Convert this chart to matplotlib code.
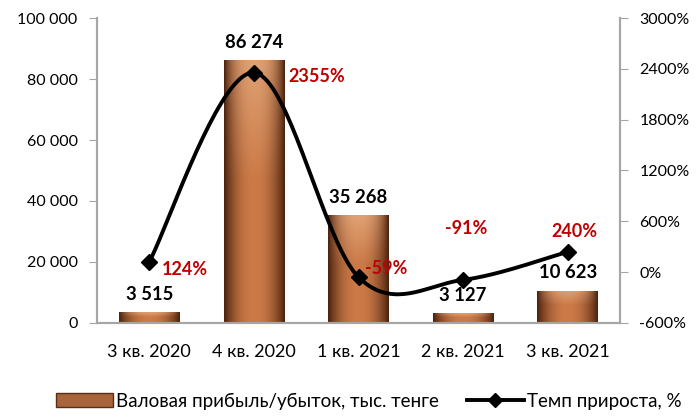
import numpy as np
import matplotlib
matplotlib.use("Agg")
import matplotlib.pyplot as plt
from matplotlib.patches import Rectangle, Patch
from matplotlib.lines import Line2D

plt.rcParams['font.family'] = ['Lato', 'DejaVu Sans']

categories = ["3 кв. 2020", "4 кв. 2020", "1 кв. 2021", "2 кв. 2021", "3 кв. 2021"]
profit = [3515, 86274, 35268, 3127, 10623]
profit_labels = ["3 515", "86 274", "35 268", "3 127", "10 623"]
growth = [124, 2355, -59, -91, 240]
growth_labels = ["124%", "2355%", "-59%", "-91%", "240%"]
left_ticks = [0, 20000, 40000, 60000, 80000, 100000]
left_tick_labels = ["0", "20 000", "40 000", "60 000", "80 000", "100 000"]
right_ticks = [-600, 0, 600, 1200, 1800, 2400, 3000]
right_tick_labels = ["-600%", "0%", "600%", "1200%", "1800%", "2400%", "3000%"]

fig = plt.figure(figsize=(6.99, 4.16), dpi=100)
ax = fig.add_axes([0.1388, 0.2236, 0.887 - 0.1388, 0.9567 - 0.2236])
ax2 = ax.twinx()

x = np.arange(len(categories))
bw = 0.58
grey = "#a6a6a6"

# gradient bars
def bar_image(nx=60, ny=200):
    t = np.linspace(0, 1, nx)
    s = np.linspace(0, 1, ny)[:, None]  # 0 bottom .. 1 top
    prof = 1 - np.abs(2 * t - 1) ** 2.2
    edge = np.array([0.30, 0.14, 0.06])
    mid = np.array([0.80, 0.48, 0.28])
    top = np.array([0.94, 0.76, 0.60])
    img = edge[None, None, :] + (mid - edge)[None, None, :] * prof[None, :, None]
    img = np.repeat(img, ny, axis=0)
    w = np.clip((s - 0.55) / 0.45, 0, 1)[:, :, None] * 0.55 * prof[None, :, None]
    img = img * (1 - w) + top[None, None, :] * w
    return np.clip(img, 0, 1)

img = bar_image()
for xi, v in zip(x, profit):
    rect = Rectangle((xi - bw / 2, 0), bw, v, facecolor="none", edgecolor="none")
    ax.add_patch(rect)
    im = ax.imshow(img, extent=[xi - bw / 2, xi + bw / 2, 0, v], origin="lower",
                   aspect="auto", zorder=2, interpolation="bilinear")
    im.set_clip_path(rect)

for xi, v, lab in zip(x, profit, profit_labels):
    ax.text(xi, v + 3000, lab, ha="center", va="bottom", fontsize=13.3,
            fontweight="bold", color="black", zorder=5)

ax.set_xlim(-0.5, len(categories) - 0.5)
ax.set_ylim(0, 100000)
ax.set_yticks(left_ticks)
ax.set_yticklabels(left_tick_labels, fontsize=11.5)
ax.set_xticks(x)
ax.set_xticklabels(categories, fontsize=13)
ax.tick_params(axis="x", length=0, pad=15)
ax.tick_params(axis="y", length=6, color=grey, direction="out", pad=8)

for a in (ax, ax2):
    a.spines["top"].set_visible(False)
    for sp in ("left", "right", "bottom"):
        a.spines[sp].set_color(grey)
        a.spines[sp].set_linewidth(1.5)

# smooth line (Catmull-Rom through the points)
def smooth(xs, ys, n=40):
    xs = np.asarray(xs, float); ys = np.asarray(ys, float)
    px = np.concatenate([[xs[0]], xs, [xs[-1]]])
    py = np.concatenate([[ys[0]], ys, [ys[-1]]])
    ox, oy = [], []
    for i in range(1, len(px) - 2):
        t = np.linspace(0, 1, n)
        h00 = 2*t**3 - 3*t**2 + 1; h10 = t**3 - 2*t**2 + t
        h01 = -2*t**3 + 3*t**2; h11 = t**3 - t**2
        mx0 = (px[i+1] - px[i-1]) / 2; mx1 = (px[i+2] - px[i]) / 2
        my0 = (py[i+1] - py[i-1]) / 2; my1 = (py[i+2] - py[i]) / 2
        ox.append(h00*px[i] + h10*mx0 + h01*px[i+1] + h11*mx1)
        oy.append(h00*py[i] + h10*my0 + h01*py[i+1] + h11*my1)
    return np.concatenate(ox), np.concatenate(oy)

sx, sy = smooth(x, growth)
ax2.plot(sx, sy, color="black", lw=2.8, zorder=3, solid_capstyle="round",
         solid_joinstyle="round")
ax2.plot(x, growth, linestyle="none", marker="D", markersize=8,
         color="black", zorder=4)
ax2.set_ylim(-600, 3000)
ax2.set_yticks(right_ticks)
ax2.set_yticklabels(right_tick_labels, fontsize=11.5)
ax2.tick_params(axis="y", length=6, color=grey, direction="out", pad=8)

red = "#c00000"
offsets = [(0.12, -95, "left", "center"), (0.33, -45, "left", "center"),
           (0.06, 105, "left", "center"), (0.03, 610, "center", "center"),
           (0.06, 140, "center", "bottom")]
for xi, v, lab, (dx, dy, ha, va) in zip(x, growth, growth_labels, offsets):
    ax2.text(xi + dx, v + dy, lab, ha=ha, va=va, fontsize=13,
             fontweight="bold", color=red, zorder=5)

handles = [Patch(facecolor="#a8643a", edgecolor="#5a2e14"),
           Line2D([0], [0], color="black", lw=2.8, marker="D", markersize=7)]
fig.legend(handles, ["Валовая прибыль/убыток, тыс. тенге", "Темп прироста, %"],
           loc="lower center", bbox_to_anchor=(0.528, -0.025), ncol=2, frameon=False,
           fontsize=13.5, handlelength=3.0, columnspacing=1.5, handletextpad=0.2)

fig.savefig("out.png", dpi=100)
